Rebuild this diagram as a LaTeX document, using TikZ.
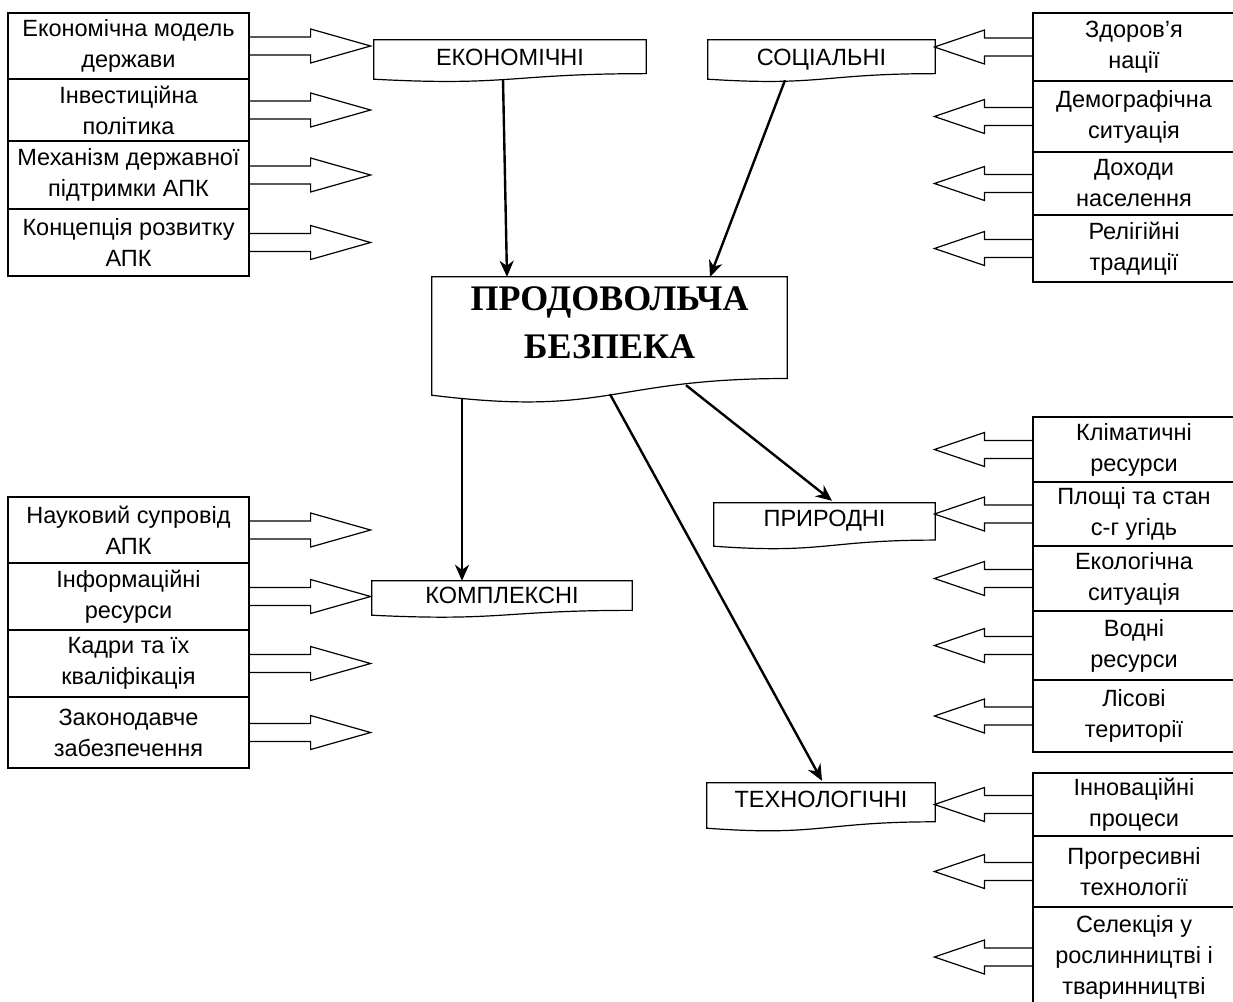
\documentclass[tikz,border=0pt]{standalone}
\usepackage{fontspec}
\setmainfont{Liberation Sans}
\newfontfamily\titlefont{Liberation Serif}
\usetikzlibrary{arrows.meta,calc}

\tikzset{
  factorbox/.style={draw, line width=1.2pt, inner sep=0pt, align=center,
    font=\fontsize{23.5}{31}\selectfont},
  catbox/.style={inner sep=0pt, align=center, text depth=12pt,
    font=\fontsize{23.5}{31}\selectfont},
  docline/.style={line width=1.2pt},
  conn/.style={line width=2.4pt, -{Stealth[length=16pt,width=14pt,inset=5pt]}},
}

% document shape with wavy bottom round a node
\newcommand{\docframe}[1]{%
  \draw[docline] let \p1=(#1.north west), \p2=(#1.south east), \n1={\y1-\y2} in
    (\x1,\y2) -- (\x1,\y1) -- (\x2,\y1) -- (\x2,\y2+0.141*\n1)
    .. controls ({(\x1+\x2)/2},\y2+0.141*\n1) and ({(\x1+\x2)/2},\y2-0.185*\n1) .. (\x1,\y2) -- cycle;}
% block arrows
\newcommand{\arrowright}[1]{%
  \draw[docline] (#1.east) ++(0,-9) -- ++(61,0) -- ++(0,-8) -- ++(60,17) -- ++(-60,17) -- ++(0,-8) -- ++(-61,0);}
\newcommand{\arrowleft}[1]{%
  \draw[docline] (#1.west) ++(0,-9) -- ++(-48,0) -- ++(0,-8) -- ++(-50,17) -- ++(50,17) -- ++(0,-8) -- ++(48,0);}

\begin{document}
\begin{tikzpicture}[x=1pt, y=-1pt]
    \useasboundingbox (0,0) rectangle (1233,1001);
    \clip (0,0) rectangle (1233,1001);

    % main box
    \node[catbox, text depth=27pt, minimum width=355, minimum height=118,
      font=\titlefont\bfseries\fontsize{36}{48}\selectfont] (main) at (609.5,336) {ПРОДОВОЛЬЧА\\БЕЗПЕКА};
    \docframe{main}

    % groups
    \node[catbox, text depth=4pt, minimum width=272, minimum height=39] (econ) at (510,59.5) {ЕКОНОМІЧНІ};
    \node[catbox, text depth=5pt, minimum width=227, minimum height=39] (soc) at (821.5,59.5) {СОЦІАЛЬНІ};
    \node[catbox, text depth=6pt, minimum width=260, minimum height=34] (kompl) at (502,598) {КОМПЛЕКСНІ};
    \node[catbox, minimum width=221, minimum height=43] (prir) at (824.5,524.5) {ПРИРОДНІ};
    \node[catbox, minimum width=228, minimum height=45] (tech) at (821,805.5) {ТЕХНОЛОГІЧНІ};
    \foreach \g in {econ,soc,kompl,prir,tech} {\docframe{\g}}

    % economic factors
    \node[factorbox, minimum width=241, minimum height=66] (e1) at (128.5,46) {Економічна модель\\держави};
    \node[factorbox, minimum width=241, minimum height=62] (e2) at (128.5,110) {Інвестиційна\\політика};
    \node[factorbox, minimum width=241, minimum height=68] (e3) at (128.5,175) {Механізм державної\\підтримки АПК};
    \node[factorbox, minimum width=241, minimum height=67] (e4) at (128.5,242.5) {Концепція розвитку\\АПК};

    % complex factors
    \node[factorbox, minimum width=241, minimum height=66] (k1) at (128.5,530) {Науковий супровід\\АПК};
    \node[factorbox, minimum width=241, minimum height=67] (k2) at (128.5,596.5) {Інформаційні\\ресурси};
    \node[factorbox, minimum width=241, minimum height=67] (k3) at (128.5,663.5) {Кадри та їх\\кваліфікація};
    \node[factorbox, minimum width=241, minimum height=71] (k4) at (128.5,732.5) {Законодавче\\забезпечення};

    % social factors
    \node[factorbox, minimum width=202, minimum height=68] (s1) at (1134,47) {Здоров’я\\нації};
    \node[factorbox, minimum width=202, minimum height=71] (s2) at (1134,116.5) {Демографічна\\ситуація};
    \node[factorbox, minimum width=202, minimum height=63] (s3) at (1134,183.5) {Доходи\\населення};
    \node[factorbox, minimum width=202, minimum height=67] (s4) at (1134,248.5) {Релігійні\\традиції};

    % natural factors
    \node[factorbox, minimum width=202, minimum height=65] (n1) at (1134,449.5) {Кліматичні\\ресурси};
    \node[factorbox, minimum width=202, minimum height=64] (n2) at (1134,514) {Площі та стан\\с-г угідь};
    \node[factorbox, minimum width=202, minimum height=65] (n3) at (1134,578.5) {Екологічна\\ситуація};
    \node[factorbox, minimum width=202, minimum height=69] (n4) at (1134,645.5) {Водні\\ресурси};
    \node[factorbox, minimum width=202, minimum height=72] (n5) at (1134,716) {Лісові\\території};

    % technological factors
    \node[factorbox, minimum width=202, minimum height=63] (t1) at (1134,804.5) {Інноваційні\\процеси};
    \node[factorbox, minimum width=202, minimum height=71] (t2) at (1134,871.5) {Прогресивні\\технології};
    \node[factorbox, minimum width=202, minimum height=100] (t3) at (1134,957) {Селекція у\\рослинництві і\\тваринництві};

    \foreach \n in {e1,e2,e3,e4,k1,k2,k3,k4} {\arrowright{\n}}
    \foreach \n in {s1,s2,s3,s4,n1,n2,n3,n4,n5,t1,t2,t3} {\arrowleft{\n}}

    % connectors
    \draw[conn] ($(econ.south)+(-7,0)$) -- ($(main.north)+(-102.5,0)$);
    \draw[conn] ($(soc.south)+(-36.5,1)$) -- ($(main.north)+(100.5,0)$);
    \draw[conn] ($(main.south)+(-147.5,3)$) -- ($(kompl.north)+(-40,0)$);
    \draw[conn] ($(main.south)+(76.5,-10)$) -- ($(prir.north)+(7.5,-2)$);
    \draw[conn] ($(main.south)+(0.5,-1)$) -- ($(tech.north)+(1,-2)$);
\end{tikzpicture}
\end{document}
